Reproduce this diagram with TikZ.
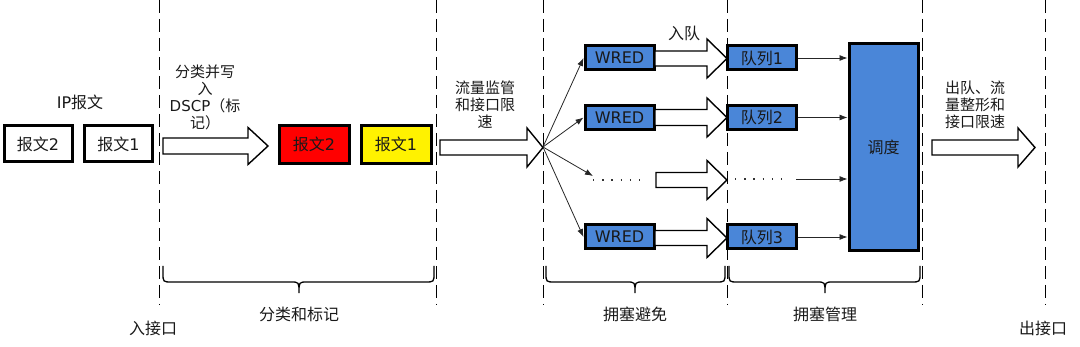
\documentclass[tikz,border=0pt]{standalone}
\usepackage{fontspec}
\setmainfont{Noto Sans CJK SC}
\newfontfamily\latf{DejaVu Sans}
\usetikzlibrary{arrows.meta}
\definecolor{qblue}{RGB}{74,134,216}
\definecolor{txt}{RGB}{25,25,25}
\newcommand\blockarr[6]{%
  \draw[barrow] (#1,#3-#4) -- (#6,#3-#4) -- (#6,#3-#5) -- (#2,#3) -- (#6,#3+#5) -- (#6,#3+#4) -- (#1,#3+#4) -- cycle;}
\newcommand\bracepath[3]{% x1 x2 mid
  \draw[bracestyle] (#1,266) -- (#1,273) .. controls (#1,282) .. (#1+9,282) -- (#3-8,282) .. controls (#3,282) .. (#3,293)
    .. controls (#3,282) .. (#3+8,282) -- (#2-9,282) .. controls (#2,282) .. (#2,273) -- (#2,266);}
\begin{document}
\begin{tikzpicture}[x=1pt,y=-1pt,
  every node/.style={text=txt},
  pkt/.style={draw=black, line width=3pt, minimum width=68pt, minimum height=36pt, inner sep=0pt, font=\fontsize{16}{17}\selectfont},
  rowbox/.style={draw=black, line width=3pt, fill=qblue, minimum width=69pt, minimum height=24pt, inner sep=0pt, font=\fontsize{16}{17}\selectfont},
  lbl/.style={font=\fontsize{16}{17}\selectfont, inner sep=0pt},
  mlbl/.style={font=\fontsize{15}{17}\selectfont, align=center, inner sep=0pt},
  sep/.style={draw=black, line width=0.9pt, dash pattern=on 13pt off 6pt},
  barrow/.style={draw=black, line width=1.4pt, fill=white, line join=miter},
  thinarr/.style={draw=black!85, line width=0.8pt, -{Latex[length=8pt,width=6pt]}},
  dotsline/.style={draw=black!80, line width=1.4pt, dash pattern=on 1.4pt off 7.8pt},
  bracestyle/.style={draw=black, line width=1.3pt}
]
\useasboundingbox (0,0) rectangle (1080,347);

% separators
\foreach \x in {159,436,543,727,922,1045} \draw[sep] (\x,0) -- (\x,305);

% input packets
\node[lbl] (iplbl) at (80,102) {{\latf IP}报文};
\node[pkt] (p2) at (38,144) {报文{\latf 2}};
\node[pkt] (p1) at (118.5,144) {报文{\latf 1}};

\node[mlbl] (cls) at (205,97) {分类并写\\入\\{\latf DSCP}（标\\记）};
\blockarr{163}{268}{146}{8}{18.5}{248}

\node[pkt, fill=red, minimum width=70pt, minimum height=38pt] (r2) at (314,144.5) {报文{\latf 2}};
\node[pkt, fill=yellow, minimum width=70pt, minimum height=38pt] (y1) at (396,144.5) {报文{\latf 1}};

\node[mlbl] (pol) at (485,105) {流量监管\\和接口限\\速};
\blockarr{440}{543}{147.5}{7.5}{19.5}{527}

% fan
\coordinate (fan) at (543,147);
\node[rowbox] (w1) at (619.5,58) {\latf WRED};
\node[rowbox] (w2) at (619.5,117.5) {\latf WRED};
\node[rowbox] (w4) at (619.5,237) {\latf WRED};
\coordinate (wd) at (593,176);
\draw[thinarr] (fan) -- (w1.west);
\draw[thinarr] (fan) -- (w2.west);
\draw[thinarr] (fan) -- (wd);
\draw[thinarr] (fan) -- (w4.west);
\coordinate (wdA) at (593,180);
\coordinate (wdB) at (642,180);
\draw[dotsline] (wdA) -- (wdB);

\node[lbl] (enq) at (684,33) {入队};
\blockarr{655}{727}{58.5}{7.5}{19.5}{707}
\blockarr{655}{727}{117.5}{8}{19.5}{707}
\blockarr{656}{727}{180}{7.5}{19.5}{707}
\blockarr{655}{727}{238}{7.5}{19.5}{707}

% queues
\node[rowbox] (q1) at (762,58) {队列{\latf 1}};
\node[rowbox] (q2) at (762,117.5) {队列{\latf 2}};
\node[rowbox] (q3) at (762,237) {队列{\latf 3}};
\coordinate (qdA) at (735,179);
\coordinate (qdB) at (786,179);
\draw[dotsline] (qdA) -- (qdB);
\coordinate (qd) at (796,179);

\node[draw=black, line width=3pt, fill=qblue, minimum width=69pt, minimum height=207pt, inner sep=0pt, font=\fontsize{16}{17}\selectfont] (sch) at (883.5,147.5) {调度};

\draw[thinarr] (q1.east) -- (q1.east -| sch.west);
\draw[thinarr] (q2.east) -- (q2.east -| sch.west);
\draw[thinarr] (qd) -- (qd -| sch.west);
\draw[thinarr] (q3.east) -- (q3.east -| sch.west);

\node[mlbl] (deq) at (975,105) {出队、流\\量整形和\\接口限速};
\blockarr{932}{1035}{147.5}{7.5}{19.5}{1018}

% braces
\bracepath{163}{434}{299}
\bracepath{546}{725}{635}
\bracepath{729}{920}{825}

\node[lbl] (b1) at (299,314) {分类和标记};
\node[lbl] (b2) at (635,314) {拥塞避免};
\node[lbl] (b3) at (825,314) {拥塞管理};
\node[lbl] (inif) at (153,328) {入接口};
\node[lbl] (outif) at (1043,328) {出接口};
\end{tikzpicture}
\end{document}
